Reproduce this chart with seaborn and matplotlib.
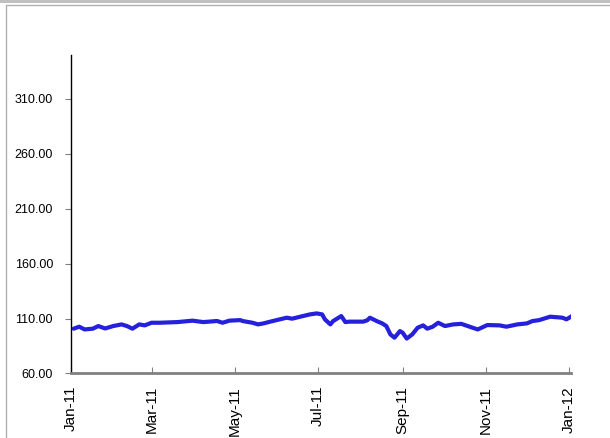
import pandas as pd
import seaborn as sns
import matplotlib.pyplot as plt
import matplotlib.dates as mdates
from matplotlib.patches import Rectangle

# values
dates = [
    "2011-01-03", "2011-01-07", "2011-01-11", "2011-01-17", "2011-01-21", "2011-01-26",
    "2011-02-01", "2011-02-07", "2011-02-11", "2011-02-15", "2011-02-20", "2011-02-24",
    "2011-03-01", "2011-03-07", "2011-03-20", "2011-03-31", "2011-04-08", "2011-04-18",
    "2011-04-22", "2011-04-27", "2011-05-05", "2011-05-07", "2011-05-14", "2011-05-18",
    "2011-05-22", "2011-05-27", "2011-06-03", "2011-06-08", "2011-06-12", "2011-06-18",
    "2011-06-25", "2011-06-30", "2011-07-04", "2011-07-06", "2011-07-10", "2011-07-12",
    "2011-07-18", "2011-07-21", "2011-07-24", "2011-08-03", "2011-08-06", "2011-08-08",
    "2011-08-13", "2011-08-17", "2011-08-20", "2011-08-23", "2011-08-26", "2011-08-30",
    "2011-09-01", "2011-09-04", "2011-09-08", "2011-09-12", "2011-09-16", "2011-09-19",
    "2011-09-23", "2011-09-27", "2011-10-02", "2011-10-08", "2011-10-14", "2011-10-20",
    "2011-10-26", "2011-11-02", "2011-11-11", "2011-11-16", "2011-11-24", "2011-12-01",
    "2011-12-05", "2011-12-10", "2011-12-18", "2011-12-27", "2011-12-30", "2012-01-03",
]
values = [
    100.8, 102.6, 100.1, 100.8, 103.2, 101.0,
    103.2, 104.7, 103.2, 100.8, 104.7, 103.8,
    106.2, 106.2, 106.8, 108.1, 106.8, 107.8,
    106.2, 108.1, 108.6, 107.7, 106.2, 104.7,
    105.6, 107.2, 109.3, 110.8, 109.9, 111.7,
    113.8, 114.7, 113.8, 109.3, 104.7, 107.7,
    112.3, 106.8, 107.2, 107.2, 108.4, 110.8,
    107.7, 105.6, 103.2, 95.6, 92.6, 98.6,
    97.1, 91.8, 95.6, 101.7, 103.8, 100.8,
    102.6, 106.2, 103.2, 104.7, 105.2, 102.6,
    100.1, 104.1, 103.8, 102.6, 104.7, 105.6,
    107.7, 108.6, 111.7, 110.8, 109.3, 112.3,
]
y_ticks = [60, 110, 160, 210, 260, 310]

df = pd.DataFrame({"date": pd.to_datetime(dates), "value": values})

sns.set_style("white")
plt.rcParams["font.family"] = ["Liberation Sans", "DejaVu Sans"]

fig = plt.figure(figsize=(6.1, 4.38), dpi=100)
ax = fig.add_axes([0.1164, 0.1473, 0.8197, 0.7271])

sns.lineplot(data=df, x="date", y="value", color="#2420DC", linewidth=3, ax=ax)

ax.set_ylim(60, 350)
ax.set_yticks(y_ticks)
ax.yaxis.set_major_formatter(plt.FuncFormatter(lambda v, p: f"{v:.2f}"))
ax.set_xlim(pd.Timestamp("2011-01-01"), pd.Timestamp("2012-01-02 08:00"))
ax.xaxis.set_major_locator(mdates.MonthLocator(bymonth=[1, 3, 5, 7, 9, 11]))
ax.xaxis.set_major_formatter(mdates.DateFormatter("%b-%y"))
ax.set_xlabel("")
ax.set_ylabel("")

for s in ["top", "right"]:
    ax.spines[s].set_visible(False)
ax.spines["left"].set_color("black")
ax.spines["left"].set_linewidth(1)
ax.spines["bottom"].set_color("#808080")
ax.spines["bottom"].set_linewidth(2)

ax.tick_params(axis="y", which="both", left=True, length=4, color="#808080",
               labelsize=9, labelcolor="black", pad=9)
ax.tick_params(axis="x", bottom=True, direction="in", length=4, color="#808080",
               labelsize=11, labelcolor="black", labelrotation=90, pad=9)

# outer chart frame
fig.patches.append(Rectangle((6 / 610, -0.1), 1.2, (438 - 5) / 438 + 0.1,
                             transform=fig.transFigure, fill=False,
                             edgecolor="#B0B0B0", linewidth=1))
fig.patches.append(Rectangle((0, 435 / 438), 1, 3 / 438, transform=fig.transFigure,
                             facecolor="#C0C0C0", edgecolor="none"))

fig.savefig("out.png", dpi=100)
